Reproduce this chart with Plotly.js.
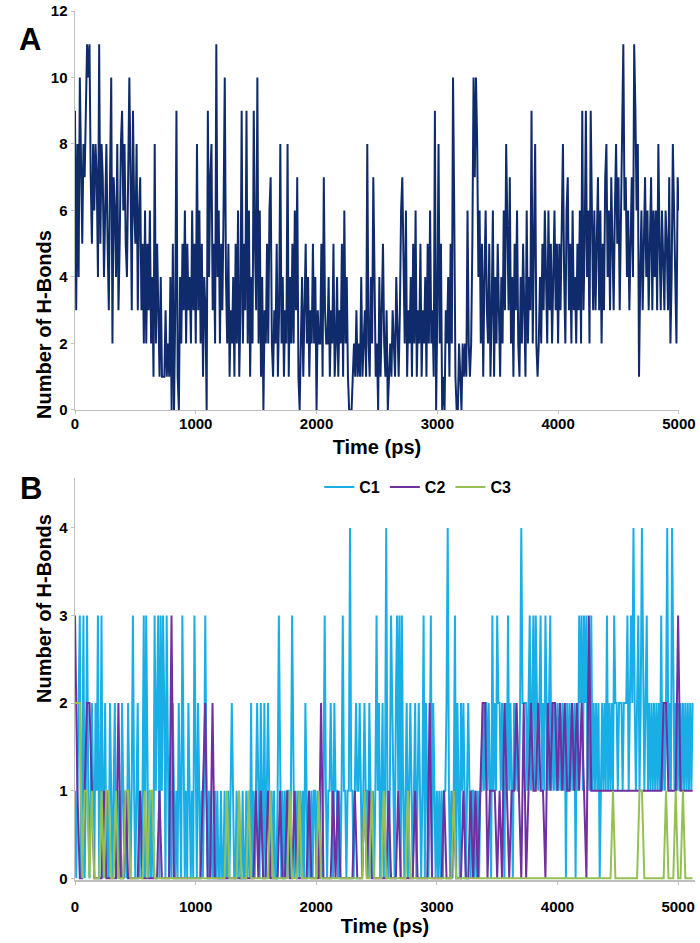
<!DOCTYPE html>
<html>
<head>
<meta charset="utf-8">
<script src="https://cdn.plot.ly/plotly-3.0.1.min.js"></script>
<style>
  html, body { margin: 0; padding: 0; background: #fff; }
  #chart { width: 700px; height: 943px; }
</style>
</head>
<body>
<div id="chart"></div>
<script>
// Panel A: total H-bonds, sampled every 10 ps from 0 to 5000 ps (one row = 100 ps)
const stepA = 10;
const hBondsA = [
  9, 3, 8, 4, 10, 7, 5, 8, 7, 9,
  11, 10, 11, 7, 5, 8, 6, 8, 7, 4,
  11, 5, 8, 7, 4, 6, 8, 5, 3, 7,
  10, 2, 7, 6, 4, 8, 3, 5, 8, 9,
  6, 8, 5, 4, 8, 10, 7, 3, 9, 6,
  5, 8, 3, 6, 7, 3, 5, 2, 6, 2,
  5, 3, 6, 2, 4, 1, 8, 2, 5, 3,
  1, 4, 1, 1, 1, 3, 1, 2, 1, 4,
  0, 5, 0, 3, 9, 1, 0, 4, 2, 5,
  3, 6, 2, 5, 3, 4, 2, 6, 3, 5,
  2, 8, 3, 6, 2, 5, 1, 4, 3, 0,
  9, 4, 7, 8, 3, 5, 2, 11, 4, 6,
  2, 5, 3, 6, 10, 4, 2, 5, 1, 3,
  2, 4, 1, 5, 2, 6, 1, 3, 9, 2,
  5, 3, 9, 2, 6, 1, 4, 2, 9, 5,
  3, 10, 2, 6, 1, 4, 0, 3, 2, 5,
  2, 6, 7, 2, 1, 3, 2, 5, 1, 3,
  8, 2, 4, 1, 3, 2, 8, 1, 4, 2,
  5, 2, 6, 3, 7, 1, 0, 2, 4, 1,
  3, 5, 2, 4, 1, 3, 2, 5, 2, 4,
  0, 3, 2, 2, 5, 1, 7, 3, 2, 2,
  4, 1, 3, 2, 5, 1, 2, 4, 1, 3,
  2, 5, 1, 6, 2, 4, 1, 0, 0, 0,
  1, 2, 1, 3, 1, 2, 1, 4, 1, 2,
  3, 1, 8, 2, 1, 4, 2, 7, 3, 1,
  2, 0, 4, 1, 3, 5, 2, 1, 3, 0,
  1, 2, 1, 3, 2, 1, 4, 2, 1, 3,
  6, 7, 5, 2, 6, 1, 3, 2, 4, 1,
  5, 2, 6, 1, 3, 2, 5, 1, 3, 2,
  4, 1, 5, 2, 6, 2, 3, 1, 9, 0,
  3, 8, 2, 5, 0, 1, 0, 3, 2, 4,
  1, 5, 2, 10, 6, 1, 0, 0, 2, 1,
  0, 2, 1, 2, 1, 6, 2, 1, 2, 5,
  10, 7, 10, 8, 4, 6, 2, 5, 1, 4,
  6, 3, 2, 5, 1, 3, 6, 1, 4, 2,
  5, 3, 1, 4, 2, 6, 3, 8, 5, 3,
  7, 2, 4, 1, 5, 3, 6, 2, 1, 4,
  2, 5, 3, 1, 6, 2, 4, 3, 9, 2,
  5, 8, 2, 1, 2, 4, 2, 5, 3, 6,
  4, 2, 6, 3, 5, 2, 4, 6, 3, 5,
  2, 5, 3, 6, 8, 4, 2, 6, 7, 3,
  5, 2, 6, 3, 4, 2, 5, 3, 6, 2,
  9, 3, 5, 9, 4, 6, 2, 9, 5, 3,
  6, 3, 5, 7, 3, 6, 2, 5, 3, 7,
  8, 4, 6, 3, 7, 5, 3, 6, 8, 5,
  7, 3, 6, 8, 11, 6, 7, 4, 6, 3,
  5, 7, 4, 11, 9, 6, 8, 1, 4, 6,
  3, 5, 7, 4, 6, 3, 5, 7, 3, 6,
  4, 6, 3, 8, 5, 3, 6, 4, 3, 6,
  5, 3, 7, 2, 4, 8, 6, 3, 2, 7,
  6
];

// Panel B: H-bonds per component, 0 to 5120 ps
// C1 every 10 ps (one row = 320 ps), C2 and C3 every 20 ps (one row = 320 ps)
const seriesNames = ['C1', 'C2', 'C3'];
const seriesSteps = [10, 20, 20];
const hBondsC1 = [
  1, 0, 1, 2, 3, 0, 1, 3, 0, 1, 3, 1, 0, 1, 2, 1, 0, 2, 1, 3, 0, 1, 3, 0, 1, 2, 0, 1, 0, 2, 1, 0,
  1, 2, 0, 1, 0, 1, 0, 2, 1, 0, 1, 0, 2, 1, 0, 1, 3, 1, 0, 1, 2, 0, 1, 0, 1, 3, 0, 3, 1, 0, 1, 0,
  1, 0, 3, 1, 2, 3, 0, 3, 1, 3, 2, 0, 3, 1, 0, 1, 0, 2, 1, 0, 1, 0, 2, 1, 0, 3, 1, 0, 1, 0, 2, 1,
  0, 1, 0, 3, 1, 0, 2, 1, 0, 1, 0, 1, 3, 1, 0, 1, 0, 1, 0, 0, 1, 0, 1, 0, 0, 1, 0, 0, 1, 0, 0, 1,
  0, 1, 2, 1, 0, 0, 1, 0, 1, 0, 0, 1, 0, 0, 1, 0, 1, 0, 2, 0, 1, 0, 1, 2, 1, 0, 2, 1, 0, 2, 0, 1,
  2, 1, 0, 1, 0, 1, 0, 0, 1, 3, 1, 0, 1, 0, 1, 0, 1, 1, 0, 1, 3, 1, 0, 1, 0, 1, 0, 1, 0, 1, 0, 2,
  1, 0, 1, 0, 1, 0, 1, 1, 0, 1, 0, 1, 0, 0, 1, 3, 1, 0, 1, 1, 2, 1, 0, 2, 1, 1, 0, 1, 0, 1, 3, 1,
  1, 0, 1, 1, 4, 1, 1, 0, 1, 2, 1, 1, 2, 1, 0, 1, 2, 1, 1, 0, 2, 1, 0, 1, 0, 1, 3, 1, 2, 0, 1, 2,
  0, 1, 4, 1, 0, 1, 3, 2, 1, 0, 2, 3, 1, 3, 0, 3, 1, 0, 1, 2, 0, 1, 2, 1, 0, 1, 2, 0, 1, 2, 1, 0,
  1, 3, 0, 2, 1, 0, 1, 3, 0, 2, 1, 0, 1, 0, 1, 0, 1, 0, 1, 1, 2, 4, 1, 0, 1, 0, 1, 3, 0, 2, 1, 0,
  2, 1, 2, 1, 0, 1, 2, 1, 0, 1, 1, 0, 1, 0, 1, 0, 1, 1, 2, 1, 2, 2, 1, 2, 1, 0, 3, 1, 2, 1, 3, 2,
  2, 1, 2, 1, 0, 2, 1, 3, 1, 2, 1, 0, 2, 1, 2, 1, 1, 2, 4, 2, 2, 2, 2, 1, 2, 3, 1, 2, 3, 1, 3, 2,
  1, 2, 3, 1, 2, 1, 3, 2, 1, 2, 3, 1, 2, 1, 2, 1, 2, 1, 2, 1, 2, 1, 2, 0, 2, 1, 2, 1, 2, 1, 2, 0,
  2, 1, 3, 2, 3, 1, 3, 2, 3, 1, 2, 1, 3, 1, 2, 1, 2, 1, 2, 0, 1, 2, 1, 2, 1, 3, 1, 2, 1, 2, 1, 3,
  2, 2, 1, 2, 2, 2, 1, 2, 2, 2, 3, 1, 2, 3, 2, 4, 2, 1, 2, 3, 1, 2, 4, 2, 1, 2, 3, 1, 2, 1, 2, 1,
  2, 1, 2, 1, 2, 1, 3, 1, 2, 1, 2, 4, 1, 2, 1, 4, 2, 1, 2, 1, 2, 1, 2, 1, 2, 1, 2, 1, 2, 1, 2, 1,
  2
];
const hBondsC2 = [
  3, 1, 0, 0, 1, 2, 2, 1, 0, 0, 0, 0, 1, 0, 0, 0,
  0, 0, 2, 0, 0, 1, 0, 0, 0, 0, 0, 1, 0, 0, 0, 0,
  0, 0, 0, 1, 0, 0, 0, 0, 3, 0, 0, 0, 0, 0, 0, 0,
  0, 0, 0, 0, 0, 1, 2, 0, 0, 2, 0, 0, 0, 0, 0, 0,
  0, 0, 0, 0, 0, 0, 0, 0, 0, 0, 0, 1, 0, 1, 0, 0,
  1, 0, 0, 0, 0, 1, 0, 0, 1, 0, 0, 1, 0, 0, 0, 0,
  0, 1, 0, 0, 0, 0, 2, 0, 0, 0, 0, 1, 0, 1, 0, 0,
  0, 0, 0, 0, 1, 0, 0, 0, 1, 0, 1, 0, 0, 0, 0, 0,
  0, 0, 1, 0, 0, 0, 1, 0, 0, 0, 0, 0, 0, 1, 0, 0,
  0, 0, 0, 2, 0, 0, 0, 0, 0, 1, 0, 0, 0, 1, 0, 0,
  0, 1, 0, 0, 1, 0, 1, 0, 1, 2, 2, 0, 1, 1, 1, 0,
  1, 0, 2, 1, 0, 1, 1, 2, 1, 0, 2, 0, 1, 2, 1, 1,
  2, 1, 1, 0, 2, 1, 2, 2, 1, 2, 1, 2, 1, 1, 2, 1,
  2, 1, 2, 1, 0, 3, 1, 1, 1, 1, 1, 1, 1, 1, 1, 1,
  1, 1, 1, 1, 1, 1, 1, 1, 1, 1, 1, 1, 1, 1, 1, 1,
  1, 1, 1, 1, 2, 2, 1, 1, 1, 1, 3, 1, 1, 1, 1, 1,
  1
];
const hBondsC3 = [
  2, 2, 2, 0, 1, 1, 0, 1, 0, 0, 0, 1, 0, 1, 1, 0,
  0, 1, 0, 0, 0, 1, 1, 0, 0, 0, 0, 0, 0, 1, 0, 1,
  1, 0, 0, 0, 0, 0, 0, 0, 0, 0, 0, 0, 0, 0, 0, 0,
  0, 0, 0, 0, 0, 0, 0, 0, 0, 0, 0, 0, 0, 0, 0, 1,
  0, 0, 0, 0, 1, 0, 0, 0, 1, 0, 0, 0, 0, 0, 0, 0,
  0, 1, 0, 0, 0, 0, 0, 0, 0, 1, 0, 0, 0, 1, 0, 0,
  0, 0, 0, 0, 0, 1, 0, 0, 0, 0, 0, 0, 0, 0, 0, 0,
  0, 0, 0, 0, 0, 0, 0, 0, 1, 0, 0, 1, 0, 0, 0, 0,
  1, 0, 0, 0, 0, 0, 0, 0, 0, 0, 1, 0, 0, 0, 0, 0,
  0, 0, 0, 0, 0, 0, 0, 0, 0, 0, 0, 0, 0, 1, 0, 0,
  0, 0, 0, 0, 0, 0, 0, 0, 0, 0, 0, 0, 0, 0, 0, 0,
  0, 0, 0, 0, 0, 0, 0, 0, 0, 0, 0, 0, 0, 0, 0, 0,
  0, 0, 0, 0, 0, 0, 0, 0, 0, 0, 0, 0, 0, 0, 0, 0,
  0, 0, 0, 0, 0, 0, 0, 0, 0, 0, 0, 0, 0, 0, 0, 1,
  0, 0, 0, 0, 0, 0, 0, 0, 0, 0, 1, 1, 0, 0, 0, 0,
  0, 0, 0, 0, 0, 1, 0, 0, 0, 1, 0, 0, 1, 0, 0, 0,
  0
];
const seriesColors = ['#1aaee6', '#7030a0', '#95c055'];

const fontFamily = 'Arial, "Liberation Sans", sans-serif';
const axisGray = '#bfbfbf';

const traces = [{
    y: hBondsA, x0: 0, dx: stepA,
    type: 'scatter', mode: 'lines',
    line: {color: '#102b6c', width: 2},
    xaxis: 'x', yaxis: 'y',
    showlegend: false
}];
[hBondsC1, hBondsC2, hBondsC3].forEach((vals, i) => {
    traces.push({
        y: vals, x0: 0, dx: seriesSteps[i],
        type: 'scatter', mode: 'lines',
        name: seriesNames[i],
        line: {color: seriesColors[i], width: 2},
        xaxis: 'x2', yaxis: 'y2'
    });
});

const tickFont = {family: fontFamily, size: 15, color: '#000', weight: 'bold'};
const titleFont = {family: fontFamily, size: 20, color: '#000', weight: 'bold'};
const commonAxis = {
    showgrid: false, zeroline: false,
    showline: true, linecolor: axisGray, linewidth: 1.5,
    ticks: 'outside', ticklen: 3, tickcolor: axisGray,
    tickfont: tickFont, layer: 'below traces'
};

const layout = {
    width: 700, height: 943,
    margin: {l: 75, r: 5, t: 11, b: 63},
    paper_bgcolor: '#fff', plot_bgcolor: '#fff',
    font: {family: fontFamily, color: '#000'},
    xaxis: Object.assign({}, commonAxis, {
        domain: [0, 0.974], range: [0, 5000], anchor: 'y',
        tickvals: [0, 1000, 2000, 3000, 4000, 5000],
        ticklabelstandoff: -3,
        title: {text: 'Time (ps)', font: titleFont, standoff: 8}
    }),
    yaxis: Object.assign({}, commonAxis, {
        domain: [0.5409, 1], range: [0, 12], anchor: 'x',
        tickvals: [0, 2, 4, 6, 8, 10, 12]
    }),
    xaxis2: Object.assign({}, commonAxis, {
        domain: [0, 1], range: [0, 5140], anchor: 'y2',
        tickvals: [0, 1000, 2000, 3000, 4000, 5000],
        ticklabelstandoff: 9,
        title: {text: 'Time (ps)', font: titleFont, standoff: 0}
    }),
    yaxis2: Object.assign({}, commonAxis, {
        domain: [0, 0.4626], range: [-0.02, 4.57], anchor: 'x2',
        tickvals: [0, 1, 2, 3, 4]
    }),
    showlegend: true,
    legend: {
        orientation: 'h', x: 0.394, xanchor: 'left', y: 0.452, yanchor: 'middle',
        font: {family: fontFamily, size: 16, color: '#000', weight: 'bold'},
        bgcolor: 'rgba(0,0,0,0)', itemwidth: 30
    },
    annotations: [
        {text: 'A', xref: 'paper', yref: 'paper', x: -0.0935, y: 0.9896,
         showarrow: false, font: {family: fontFamily, size: 31, weight: 'bold', color: '#000'}},
        {text: 'B', xref: 'paper', yref: 'paper', x: -0.092, y: 0.45,
         showarrow: false, font: {family: fontFamily, size: 31, weight: 'bold', color: '#000'}},
        {text: 'Number of H-Bonds', xref: 'paper', yref: 'paper', x: -0.071, y: 0.7509,
         textangle: -90, showarrow: false, font: titleFont},
        {text: 'Number of H-Bonds', xref: 'paper', yref: 'paper', x: -0.071, y: 0.202,
         textangle: -90, showarrow: false, font: titleFont}
    ]
};

Plotly.newPlot('chart', traces, layout, {staticPlot: true});
</script>
</body>
</html>
